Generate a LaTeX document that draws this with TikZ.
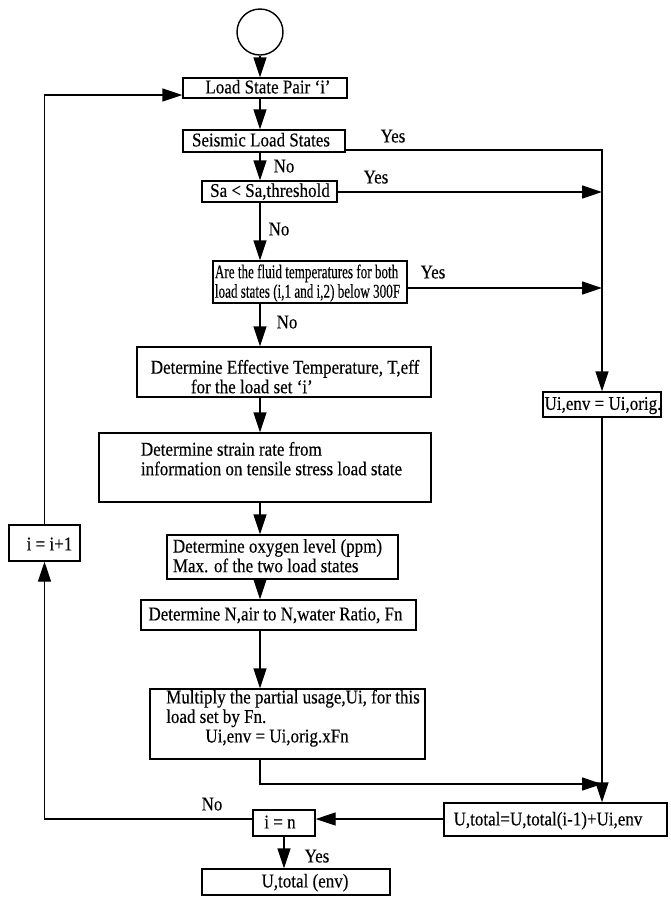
\documentclass[tikz,border=0pt]{standalone}
\usepackage{fontspec}
\setmainfont{Liberation Serif}
\newfontfamily\fsfam{Liberation Serif}[FakeBold=0.3]
\usepackage{graphicx}
\usetikzlibrary{arrows.meta,calc}
\newcommand\fs{\fsfam\fontsize{19.5pt}{19.5pt}\selectfont}
\newcommand\tx[2][0.872]{\scalebox{#1}[1]{\begin{tabular}{@{}l@{}}#2\end{tabular}}}
\tikzset{
  boxn/.style={draw, line width=1.4pt, inner sep=0pt, rectangle},
  arr/.style={line width=1.4pt, -{Triangle[length=20pt,width=13pt]}},
  lbl/.style={inner sep=0pt, font=\fs, yshift=-1.5pt},
}
\begin{document}
\begin{tikzpicture}[x=1pt,y=-1pt]
\fill[white] (0,0) rectangle (671,898);
\useasboundingbox (0,0) rectangle (671,898);

% helper coordinates
\coordinate (spine) at (260,0);
\coordinate (rx) at (602,0);
\coordinate (yL) at (0,95);
\coordinate (yS) at (0,150);
\coordinate (ySa) at (0,192);
\coordinate (yF) at (0,288);
\coordinate (yM) at (0,784);
\coordinate (yI) at (0,819);

% start circle
\node[draw, circle, minimum size=46pt, inner sep=0pt, line width=1.4pt] (circ) at (260,32) {};

% boxes
\node[boxn, minimum width=164pt, minimum height=20pt] (load) at (265,88) {};
\node[boxn, minimum width=162pt, minimum height=22pt] (seis) at (264,141) {};
\node[boxn, minimum width=135pt, minimum height=21pt] (sa) at (269.5,191.5) {};
\node[boxn, minimum width=194pt, minimum height=42pt] (fluid) at (310,282) {};
\node[boxn, minimum width=294pt, minimum height=50pt] (teff) at (284,372) {};
\node[boxn, minimum width=332pt, minimum height=69pt] (strain) at (265,467.5) {};
\node[boxn, minimum width=231pt, minimum height=44pt] (oxy) at (282.5,557) {};
\node[boxn, minimum width=275pt, minimum height=30pt] (nbox) at (278.5,615) {};
\node[boxn, minimum width=275pt, minimum height=70pt] (mult) at (287.5,724) {};
\node[boxn, minimum width=71pt, minimum height=36pt] (ii) at (44.5,543) {};
\node[boxn, minimum width=118pt, minimum height=25pt] (uienv) at (602,404.5) {};
\node[boxn, minimum width=223pt, minimum height=33pt] (utot) at (555.5,819.5) {};
\node[boxn, minimum width=62pt, minimum height=26pt] (in) at (284,823) {};
\node[boxn, minimum width=188pt, minimum height=26pt] (uenv) at (296,882) {};

% texts
\node[lbl] (loadT) at (268,88) {\tx{Load State Pair ‘i’}};
\node[lbl] (seisT) at (261,141) {\tx{Seismic Load States}};
\node[lbl] (saT) at (270,191.5) {\tx{Sa < Sa,threshold}};
\node[lbl] (fluidT) at (307.5,282.5) {\tx[0.673]{Are the fluid temperatures for both\\ load states (i,1 and i,2) below 300F}};
\node[lbl] (teffT) at (285,378) {\tx{Determine Effective Temperature, T,eff\\\hspace*{46pt}for the load set ‘i’}};
\node[lbl] (strainT) at (271.5,460) {\tx{Determine strain rate from\\information on tensile stress load state}};
\node[lbl] (oxyT) at (277.5,557) {\tx{Determine oxygen level (ppm)\\Max. of the two load states}};
\node[lbl] (nT) at (275.5,615) {\tx{Determine N,air to N,water Ratio, Fn}};
\node[lbl] (multT) at (293,717.5) {\tx{Multiply the partial usage,Ui, for this\\load set by Fn.\\\hspace*{45pt}Ui,env = Ui,orig.xFn}};
\node[lbl] (iiT) at (49.5,545) {\tx{i = i+1}};
\node[lbl] (uienvT) at (603,404.5) {\tx{Ui,env = Ui,orig.}};
\node[lbl] (utotT) at (548,820) {\tx{U,total=U,total(i-1)+Ui,env}};
\node[lbl] (inT) at (280,823) {\tx{i = n}};
\node[lbl] (uenvT) at (305,882) {\tx{U,total (env)}};

% yes / no labels
\node[lbl] (yes1) at (393,137) {\tx{Yes}};
\node[lbl] (no1) at (284,167) {\tx{No}};
\node[lbl] (yes2) at (376,178) {\tx{Yes}};
\node[lbl] (no2) at (279,230) {\tx{No}};
\node[lbl] (yes3) at (433,273) {\tx{Yes}};
\node[lbl] (no3) at (287,323) {\tx{No}};
\node[lbl] (no4) at (212,805) {\tx{No}};
\node[lbl] (yes4) at (317,857) {\tx{Yes}};

% main spine
\draw[arr] (circ.south) -- (circ.south |- load.north);
\draw[arr] (spine |- load.south) -- (spine |- seis.north);
\draw[arr] (spine |- seis.south) -- (spine |- sa.north);
\draw[arr] (spine |- sa.south) -- (spine |- fluid.north);
\draw[arr] (spine |- fluid.south) -- (spine |- teff.north);
\draw[arr] (spine |- teff.south) -- (spine |- strain.north);
\draw[arr] (spine |- strain.south) -- (spine |- oxy.north);
\draw[arr] (spine |- oxy.south) -- (spine |- nbox.north);
\draw[arr] (spine |- nbox.south) -- (spine |- mult.north);
\draw[arr] (spine |- mult.south) |- (rx |- yM);

% right branch
\draw[arr] (seis.east |- yS) -| (uienv.north);
\draw[arr] (sa.east |- ySa) -- (rx |- ySa);
\draw[arr] (fluid.east |- yF) -- (rx |- yF);
\draw[arr] (uienv.south) -- (uienv.south |- utot.north);

% bottom and loop
\draw[arr] (utot.west |- yI) -- (in.east |- yI);
\draw[arr] (in.west |- yI) -| (ii.south);
\draw[arr] (ii.north) |- (load.west |- yL);
\draw[arr] (in.south) -- (in.south |- uenv.north);
\end{tikzpicture}
\end{document}
